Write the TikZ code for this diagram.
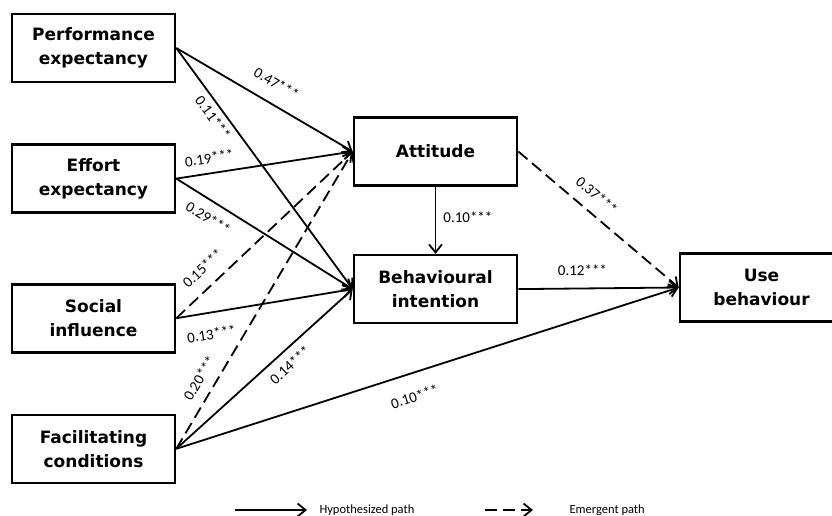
\documentclass[tikz,border=0pt]{standalone}
\usepackage{fontspec}
\setmainfont{Carlito}
\newfontfamily\boxfont{DejaVu Sans}
\usepackage{tikz}
\usetikzlibrary{positioning}
\usetikzlibrary{quotes}
\usetikzlibrary{arrows.meta}

\begin{document}
\begin{tikzpicture}
		[x=1pt, y=-1pt,
		construct/.style={rectangle, draw=black, line width=2.6pt, minimum width=163pt, minimum height=68pt, align=center, inner sep=2pt, font=\boxfont\bfseries\fontsize{17}{24}\selectfont},
		hyp/.style={line width=1.8pt, -{Straight Barb[length=8pt, width=13pt]}},
		emg/.style={hyp, dash pattern=on 12pt off 6pt},
		legend/.style={anchor=west, font=\fontsize{12.5}{12.5}\selectfont},
		every edge quotes/.style={font=\fontsize{15}{15}\selectfont, inner sep=1pt}]
		\useasboundingbox (0,0) rectangle (832,515);
		\clip (0,0) rectangle (832,515);
		\node[construct] (pe) at (93.5,48) {Performance\\expectancy};
		\node[construct, below=60pt of pe] (ee) {Effort\\expectancy};
		\node[construct, below=69pt of ee] (si) {Social\\influence};
		\node[construct, below=60pt of si] (fc) {Facilitating\\conditions};
		\node[construct] (att) at (435.5,151.5) {Attitude};
		\node[construct, below=67pt of att] (bi) {Behavioural\\intention};
		\node[construct] (ub) at (761.5,287.5) {Use\\behaviour};
		\draw[hyp] (pe.east) to["0.47***" {sloped, pos=.51, above=13pt}] (att.west);
		\draw[hyp] (pe.east) to["0.11***" {sloped, pos=.26, below=4pt}] (bi.west);
		\draw[hyp] (ee.east) to["0.19***" {sloped, pos=.20, above=8pt}] (att.west);
		\draw[hyp] (ee.east) to["0.29***" {sloped, pos=.23, below=9pt}] (bi.west);
		\draw[emg] (si.east) to["0.15***" {sloped, pos=.22, above=11pt}] (att.west);
		\draw[hyp] (si.east) to["0.13***" {sloped, pos=.18, below=14pt}] (bi.west);
		\draw[emg] (fc.east) to["0.20***" {sloped, pos=.21, above=9pt}] (att.west);
		\draw[hyp] (fc.east) to["0.14***" {sloped, pos=.59, below=7pt}] (bi.west);
		\draw[hyp] (fc.east) to["0.10***" {sloped, pos=.46, below=16pt}] (ub.west);
		\draw[hyp] (att) to["0.10***" {pos=.45, right=6pt}] (bi);
		\draw[hyp] (bi.east) to["0.12***" {pos=.40, above=11pt}] (ub.west);
		\draw[emg] (att.east) to["0.37***" {sloped, pos=.42, above=10pt}] (ub.west);
		\coordinate (h1) at (235,510);
		\coordinate (h2) at (307,510);
		\node[legend] (hyptext) at (316,510) {Hypothesized path};
		\draw[hyp] (h1) -- (h2);
		\coordinate (e1) at (485,510);
		\coordinate (e2) at (533,510);
		\node[legend] (emgtext) at (566,510) {Emergent path};
		\draw[emg] (e1) -- (e2);
	\end{tikzpicture}
\end{document}
